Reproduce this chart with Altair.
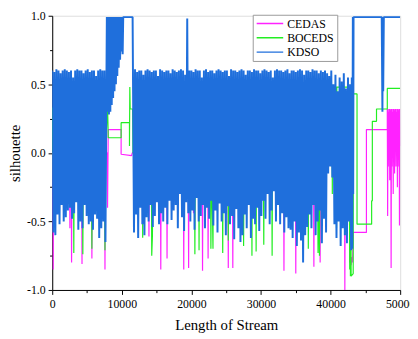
import altair as alt
import pandas as pd

SERIES = ["CEDAS", "BOCEDS", "KDSO"]
COLORS = ["#ff22ff", "#22ee22", "#1f6fdc"]
X_TICKS = [0, 5000, 10000, 15000, 20000, 25000, 30000, 35000, 40000, 45000, 50000]
Y_TICKS = [-1.0, -0.75, -0.5, -0.25, 0.0, 0.25, 0.5, 0.75, 1.0]

# ---------------- KDSO (blue) ----------------
# segment A: dense oscillation 0 .. 7650 (peak / trough pairs every 300)
kdso_a_peaks = [0.6, 0.59, 0.61, 0.6, 0.58, 0.6, 0.61, 0.6, 0.59, 0.6, 0.55, 0.6, 0.61,
                0.6, 0.6, 0.58, 0.6, 0.61, 0.59, 0.6, 0.6, 0.56, 0.6, 0.61, 0.6, 0.6]
kdso_a_troughs = [-0.58, -0.6, -0.45, -0.52, -0.38, -0.5, -0.47, -0.42, -0.4, -0.48, -0.44, -0.36, -0.56,
                  -0.5, -0.55, -0.38, -0.46, -0.52, -0.5, -0.56, -0.45, -0.48, -0.62, -0.55, -0.5, -0.65]
# segment between 7800 and 11550 (high plateau)
kdso_mid_x = [7800, 7850, 7950, 8050, 8150, 8250, 8350, 8450, 8550, 8650, 8750, 8850, 8950, 9050,
              9150, 9250, 9350, 9450, 9550, 9650, 9750, 9850, 9950, 10050, 10120, 10200, 11550]
kdso_mid_y = [0.6, 0.99, 0.3, 0.99, 0.28, 0.99, 0.3, 0.99, 0.35, 0.99, 0.4, 0.99, 0.45, 0.99,
              0.5, 0.99, 0.56, 0.99, 0.62, 0.99, 0.68, 0.99, 0.74, 0.99, 0.72, 0.99, 0.99]
# segment B: dense oscillation 11600 .. 42950
kdso_b_peaks = [0.6, 0.61, 0.59, 0.6, 0.6, 0.57, 0.6, 0.61, 0.6, 0.59,
                0.6, 0.6, 0.56, 0.61, 0.6, 0.59, 0.6, 0.6, 0.58, 0.61,
                0.6, 0.59, 0.6, 0.61, 0.6, 0.57, 0.98, 0.6, 0.6, 0.59,
                0.61, 0.6, 0.6, 0.55, 0.6, 0.61, 0.59, 0.6, 0.6, 0.58,
                0.6, 0.61, 0.6, 0.59, 0.6, 0.6, 0.56, 0.61, 0.6, 0.6,
                0.59, 0.6, 0.61, 0.6, 0.57, 0.6, 0.6, 0.59, 0.61, 0.6,
                0.6, 0.58, 0.6, 0.61, 0.6, 0.59, 0.6, 0.55, 0.6, 0.61,
                0.6, 0.6, 0.59, 0.6, 0.61, 0.58, 0.6, 0.6, 0.59, 0.6,
                0.61, 0.6, 0.57, 0.6, 0.6, 0.59, 0.61, 0.6, 0.6, 0.58,
                0.6, 0.59, 0.6, 0.58, 0.56, 0.6, 0.5, 0.57, 0.45, 0.55,
                0.52, 0.58, 0.47, 0.55, 0.5]
kdso_b_troughs = [-0.58, -0.45, -0.62, -0.4, -0.52, -0.6, -0.47, -0.5, -0.38, -0.54,
                  -0.46, -0.36, -0.52, -0.44, -0.5, -0.4, -0.52, -0.35, -0.49, -0.42,
                  -0.38, -0.55, -0.3, -0.47, -0.57, -0.36, -0.44, -0.5, -0.42, -0.56,
                  -0.33, -0.5, -0.46, -0.38, -0.55, -0.4, -0.48, -0.35, -0.53, -0.42,
                  -0.58, -0.37, -0.5, -0.44, -0.6, -0.39, -0.52, -0.46, -0.63, -0.41,
                  -0.55, -0.65, -0.6, -0.45, -0.55, -0.38, -0.62, -0.48, -0.52, -0.4,
                  -0.57, -0.46, -0.35, -0.48, -0.3, -0.52, -0.42, -0.28, -0.5, -0.38,
                  -0.52, -0.44, -0.58, -0.47, -0.55, -0.56, -0.62, -0.5, -0.68, -0.58,
                  -0.64, -0.8, -0.6, -0.54, -0.45, -0.55, -0.38, -0.6, -0.5, -0.42,
                  -0.66, -0.48, -0.58, -0.15, -0.1, -0.18, -0.52, -0.62, -0.5, -0.68,
                  -0.55, -0.6, -0.66, -0.5, -0.71]
# tail after 43000
kdso_end_x = [43050, 43120, 43200, 43250, 43300, 47350, 47450, 47500, 47560, 47650, 50000]
kdso_end_y = [0.55, -0.7, 0.99, -0.3, 0.99, 0.99, 0.30, 0.99, 0.45, 0.99, 0.99]

# ---------------- BOCEDS (green) ----------------
boceds_pts = [
    (0, 0.33), (100, 0.0), (250, -0.55), (350, 0.0),
    (3050, 0.0), (3100, -0.73), (3160, 0.0),
    (4340, 0.0), (4400, -0.74), (4460, 0.0),
    (5640, 0.0), (5700, -0.7), (5760, 0.0),
    (7520, 0.0), (7580, -0.71), (7640, 0.0),
    (7950, 0.35), (8050, 0.11), (9900, 0.11), (9900, 0.22), (11100, 0.22),
    (11100, 0.05), (11150, 0.48), (11200, 0.32), (11550, 0.32), (11600, 0.0),
    (12950, 0.0), (13000, -0.62), (13060, 0.0),
    (14240, 0.0), (14300, -0.75), (14400, -0.6), (14460, 0.0),
    (20440, 0.0), (20500, -0.74), (20560, 0.0),
    (21040, 0.0), (21100, -0.71), (21160, 0.0),
    (22740, 0.0), (22800, -0.7), (22900, 0.0), (23100, -0.7), (23160, 0.0),
    (24440, 0.0), (24500, -0.73), (24560, 0.0),
    (25240, 0.0), (25300, -0.64), (25360, 0.0),
    (27440, 0.0), (27500, -0.68), (27560, 0.0),
    (28640, 0.0), (28700, -0.75), (28760, 0.0),
    (29240, 0.0), (29300, -0.72), (29360, 0.0),
    (30340, 0.0), (30400, -0.67), (30460, 0.0),
    (31540, 0.0), (31600, -0.75), (31660, 0.0),
    (36740, 0.0), (36800, -0.7), (36860, 0.0),
    (38100, 0.0), (38200, -0.73), (38300, -0.2), (38400, -0.75), (38500, 0.0),
    (39700, 0.0), (39800, 0.48), (40200, 0.48), (40250, -0.3), (40300, 0.48),
    (40800, 0.48), (40850, -0.55), (40900, 0.48), (41700, 0.48), (41750, -0.4),
    (41800, 0.48), (42650, 0.48), (42750, -0.85), (42800, 0.2), (42850, -0.9),
    (42900, 0.3), (42950, -0.9), (43250, -0.88), (43270, 0.43), (43800, 0.43),
    (43800, -0.52), (45900, -0.52), (45900, -0.35), (46000, -0.35), (46000, 0.23),
    (46600, 0.23), (46600, 0.32), (48150, 0.32), (48150, 0.47), (50000, 0.47),
]

# ---------------- CEDAS (magenta) ----------------
cedas_pts = [
    (0, 0.0), (80, 0.0), (140, -0.85), (200, 0.0),
    (2480, 0.0), (2540, -0.55), (2600, 0.0), (2720, 0.0), (2780, -0.8), (2840, 0.0),
    (4220, 0.0), (4280, -0.81), (4340, 0.0),
    (5640, 0.0), (5700, -0.77), (5760, 0.0),
    (7520, 0.0), (7580, -0.85), (7640, 0.0),
    (7900, 0.0), (7950, -0.4), (8050, 0.17), (9900, 0.17), (9900, -0.01),
    (11400, -0.02), (11500, 0.0),
    (13840, 0.0), (13900, -0.61), (13960, 0.0),
    (15540, 0.0), (15600, -0.85), (15660, 0.0),
    (16440, 0.0), (16500, -0.77), (16560, 0.0),
    (18840, 0.0), (18900, -0.85), (18960, 0.0),
    (19540, 0.0), (19600, -0.84), (19660, 0.0),
    (20240, 0.0), (20300, -0.44), (20360, 0.0),
    (21540, 0.0), (21600, -0.86), (21660, 0.0),
    (22340, 0.0), (22400, -0.77), (22460, 0.0),
    (25240, 0.0), (25300, -0.84), (25360, 0.0),
    (25890, 0.0), (25950, -0.84), (26010, 0.0),
    (33240, 0.0), (33300, -0.86), (33360, 0.0),
    (34940, 0.0), (35000, -0.88), (35060, 0.0),
    (37540, 0.0), (37600, -0.83), (37660, 0.0),
    (38440, 0.0), (38500, -0.8), (38560, 0.0),
    (41990, 0.0), (42050, -1.0), (42110, 0.0),
    (42700, 0.0), (42750, -0.8), (42850, -0.75), (42950, -0.82), (43050, -0.76),
    (43150, -0.8), (43270, -0.58), (45150, -0.58), (45150, 0.17), (48150, 0.17),
    (48150, 0.32), (48200, -0.46), (48250, 0.32), (48300, -0.1), (48350, 0.3),
    (48400, -0.05), (48450, 0.32), (48500, -0.2), (48550, 0.31), (48600, -0.05),
    (48650, 0.32), (48700, -0.84), (48750, 0.32), (48800, -0.1), (48850, 0.3),
    (48900, 0.0), (48950, 0.32), (49000, -0.3), (49050, 0.32), (49100, -0.05),
    (49150, 0.31), (49200, -0.15), (49250, 0.32), (49300, 0.02), (49350, 0.32),
    (49400, -0.1), (49450, 0.3), (49500, -0.02), (49550, 0.32), (49600, -0.25),
    (49650, 0.32), (49700, -0.05), (49750, 0.31), (49800, -0.1), (49850, 0.32),
    (49900, -0.53), (49950, 0.32), (50000, 0.05),
]


def zigzag(start, step, peaks, troughs):
    xs, ys = [], []
    for i, (p, t) in enumerate(zip(peaks, troughs)):
        xs += [start + 2 * step * i, start + 2 * step * i + step]
        ys += [p, t]
    return xs, ys


ax, ay = zigzag(0, 150, kdso_a_peaks, kdso_a_troughs)
bx, by = zigzag(11600, 150, kdso_b_peaks, kdso_b_troughs)
kdso_x = ax + kdso_mid_x + bx + kdso_end_x
kdso_y = ay + kdso_mid_y + by + kdso_end_y

FONT = "Liberation Serif"

x_scale = alt.Scale(domain=[0, 50000], nice=False, zero=False)
y_scale = alt.Scale(domain=[-1, 1], nice=False, zero=False)

x_axis = alt.Axis(
    values=X_TICKS,
    labelExpr="datum.value % 10000 == 0 ? format(datum.value, 'd') : ''",
    tickSize={"condition": {"test": "datum.value % 10000 == 0", "value": 4.5}, "value": 2.7},
    title="Length of Stream", titleFontSize=15, titleFontWeight="normal",
    titleY=40, titleBaseline="alphabetic",
    labelFontSize=12, labelPadding=4, labelFlush=False, labelOverlap=False,
    domainColor="black", tickColor="black", labelColor="black", titleColor="black",
    grid=False, labelFont=FONT, titleFont=FONT,
)
y_axis = alt.Axis(
    values=Y_TICKS,
    labelExpr="abs(datum.value * 2 - round(datum.value * 2)) < 0.001 ? replace(format(datum.value, '.1f'), '\u2212', '-') : ''",
    tickSize={"condition": {"test": "abs(datum.value * 2 - round(datum.value * 2)) < 0.001", "value": 4.2},
              "value": 2.7},
    title="silhouette", titleFontSize=15, titleFontWeight="normal",
    titleX=-33, titleBaseline="alphabetic",
    labelFontSize=12, labelPadding=3, labelFlush=False, labelOverlap=False,
    domainColor="black", tickColor="black", labelColor="black", titleColor="black",
    grid=False, labelFont=FONT, titleFont=FONT,
)
color_scale = alt.Scale(domain=SERIES, range=COLORS)
legend = alt.Legend(
    orient="none", legendX=204, legendY=-1, title=None,
    symbolType="stroke", symbolSize=729, symbolStrokeWidth=1.5,
    labelFontSize=12, labelFont=FONT, labelColor="black",
    strokeColor="#999999", fillColor="white", padding=3, rowPadding=2.5,
    labelOffset=3, clipHeight=12,
)


def layer(name, xs, ys, width):
    df = pd.DataFrame({"x": xs, "y": ys, "series": name, "i": list(range(len(xs)))})
    return alt.Chart(df).mark_line(strokeWidth=width, clip=True, strokeJoin="bevel").encode(
        x=alt.X("x:Q", scale=x_scale, axis=x_axis),
        y=alt.Y("y:Q", scale=y_scale, axis=y_axis),
        color=alt.Color("series:N", scale=color_scale, legend=legend),
        order=alt.Order("i:Q"),
    )


cedas = layer("CEDAS", [p[0] for p in cedas_pts], [p[1] for p in cedas_pts], 1.2)
boceds = layer("BOCEDS", [p[0] for p in boceds_pts], [p[1] for p in boceds_pts], 1.2)
kdso = layer("KDSO", kdso_x, kdso_y, 2.0)

chart = alt.layer(cedas, boceds, kdso).properties(
    width=354, height=279,
    padding={"left": 45, "top": 5, "right": 10, "bottom": 47},
    autosize="none",
).configure_view(stroke=None).configure(font=FONT)

chart.save("out.html", embed_options={"renderer": "svg", "actions": False})
